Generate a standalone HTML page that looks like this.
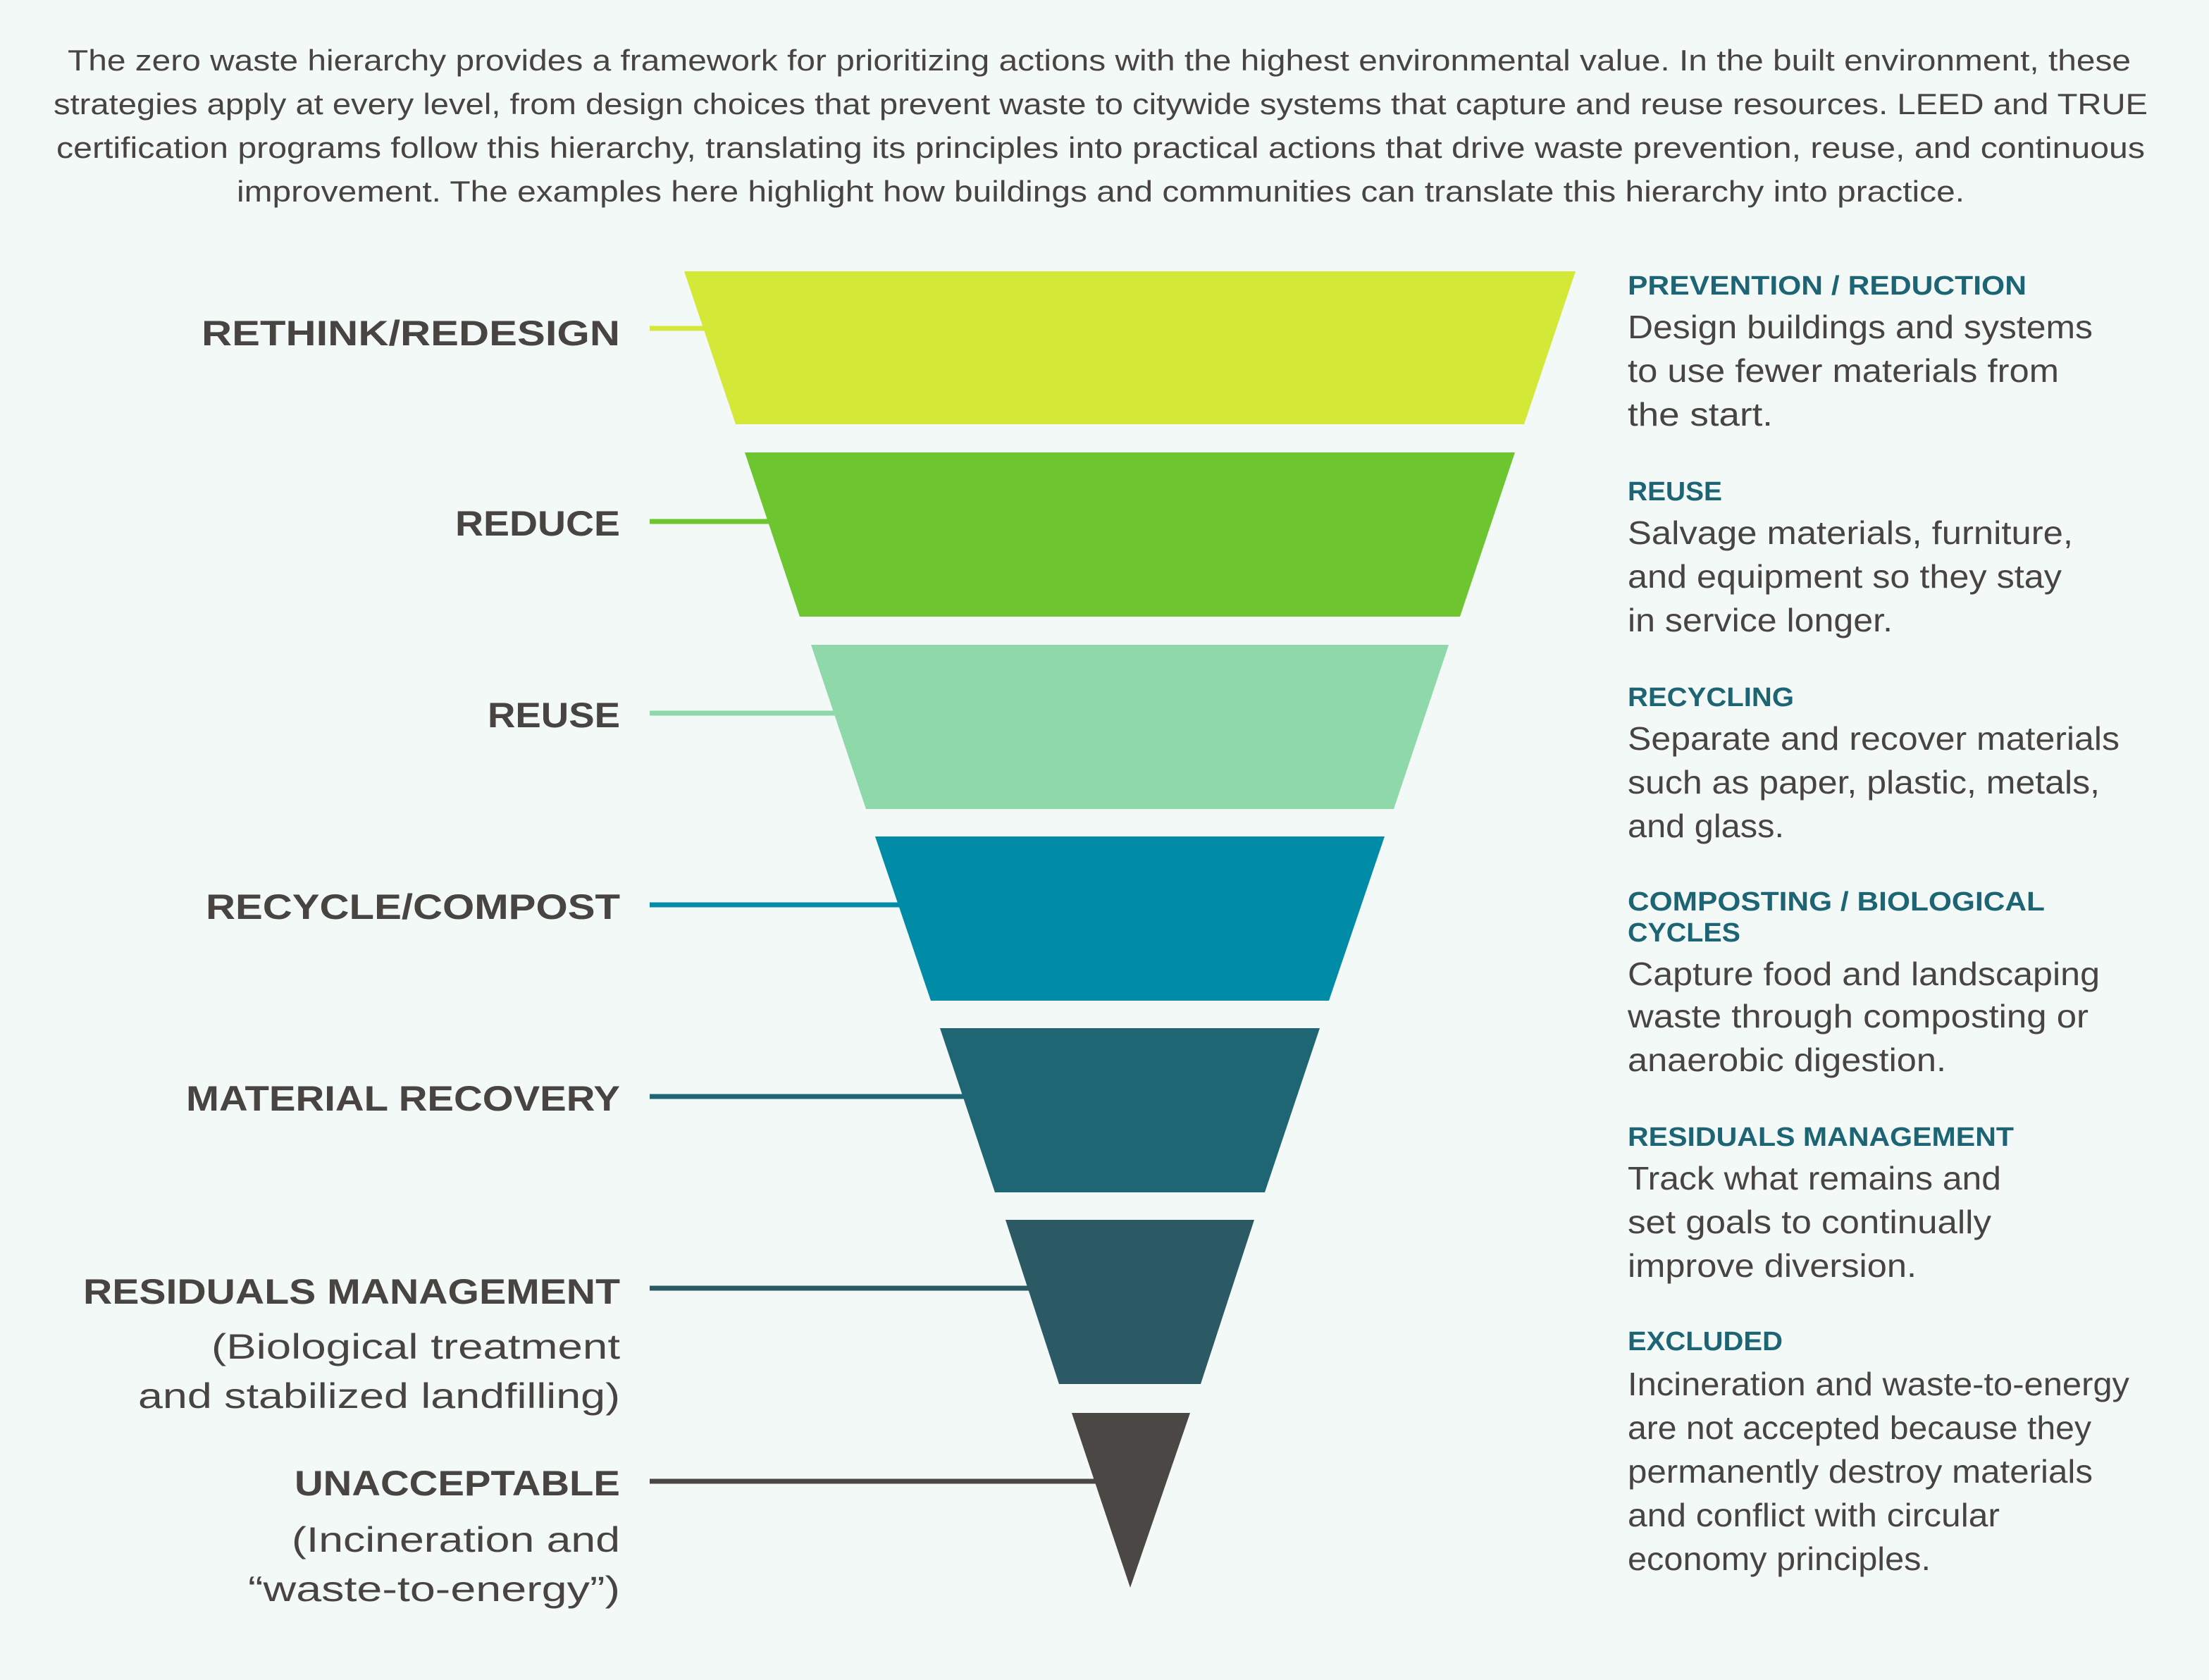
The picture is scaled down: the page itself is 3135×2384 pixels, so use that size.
<!DOCTYPE html>
<html><head><meta charset="utf-8"><style>
html,body{margin:0;padding:0;background:#f3f9f6;}
svg{display:block;}
text{font-family:"Liberation Sans",sans-serif;}
</style></head><body>
<svg width="3135" height="2384" viewBox="0 0 3135 2384" xmlns="http://www.w3.org/2000/svg">
<rect width="3135" height="2384" fill="#f3f9f6"/>
<g fill="#474442" font-size="42" lengthAdjust="spacingAndGlyphs">
<text x="96" y="100" textLength="2928" lengthAdjust="spacingAndGlyphs">The zero waste hierarchy provides a framework for prioritizing actions with the highest environmental value. In the built environment, these</text>
<text x="76" y="162" textLength="2972" lengthAdjust="spacingAndGlyphs">strategies apply at every level, from design choices that prevent waste to citywide systems that capture and reuse resources. LEED and TRUE</text>
<text x="80" y="224" textLength="2964" lengthAdjust="spacingAndGlyphs">certification programs follow this hierarchy, translating its principles into practical actions that drive waste prevention, reuse, and continuous</text>
<text x="336" y="286" textLength="2452" lengthAdjust="spacingAndGlyphs">improvement. The examples here highlight how buildings and communities can translate this hierarchy into practice.</text>
</g>
<!-- connector lines -->
<g stroke-width="7">
<line x1="922" y1="466" x2="1100" y2="466" stroke="#d4e837"/>
<line x1="922" y1="740" x2="1150" y2="740" stroke="#6dc52f"/>
<line x1="922" y1="1012" x2="1250" y2="1012" stroke="#8ed8aa"/>
<line x1="922" y1="1284" x2="1330" y2="1284" stroke="#008ca6"/>
<line x1="922" y1="1556" x2="1420" y2="1556" stroke="#1f6674"/>
<line x1="922" y1="1828" x2="1500" y2="1828" stroke="#2b5a64"/>
<line x1="922" y1="2102" x2="1570" y2="2102" stroke="#4a4745"/>
</g>
<polygon points="971,385 2236,385 2163,602 1044,602" fill="#d4e837"/>
<polygon points="1057,642 2150,642 2072,875 1135,875" fill="#6dc52f"/>
<polygon points="1151,915 2056,915 1978,1148 1229,1148" fill="#8ed8aa"/>
<polygon points="1242,1187 1965,1187 1886,1420 1321,1420" fill="#008ca6"/>
<polygon points="1334,1459 1873,1459 1795,1692 1412,1692" fill="#1f6674"/>
<polygon points="1427,1731 1780,1731 1704,1964 1503,1964" fill="#2b5a64"/>
<polygon points="1521,2005 1689,2005 1604,2253" fill="#4a4745"/>
<!-- left labels -->
<g fill="#474442" font-size="50" text-anchor="end">
<g font-weight="bold">
<text x="880" y="490" textLength="594" lengthAdjust="spacingAndGlyphs">RETHINK/REDESIGN</text>
<text x="880" y="760" textLength="234" lengthAdjust="spacingAndGlyphs">REDUCE</text>
<text x="880" y="1032" textLength="188" lengthAdjust="spacingAndGlyphs">REUSE</text>
<text x="880" y="1304" textLength="588" lengthAdjust="spacingAndGlyphs">RECYCLE/COMPOST</text>
<text x="880" y="1576" textLength="616" lengthAdjust="spacingAndGlyphs">MATERIAL RECOVERY</text>
<text x="880" y="1850" textLength="762" lengthAdjust="spacingAndGlyphs">RESIDUALS MANAGEMENT</text>
<text x="880" y="2122" textLength="462" lengthAdjust="spacingAndGlyphs">UNACCEPTABLE</text>
</g>
<text x="880" y="1928" textLength="580" lengthAdjust="spacingAndGlyphs">(Biological treatment</text>
<text x="880" y="1998" textLength="684" lengthAdjust="spacingAndGlyphs">and stabilized landfilling)</text>
<text x="880" y="2202" textLength="466" lengthAdjust="spacingAndGlyphs">(Incineration and</text>
<text x="880" y="2272" textLength="528" lengthAdjust="spacingAndGlyphs">“waste-to-energy”)</text>
</g>
<!-- right headers -->
<g fill="#1d6474" font-size="38" font-weight="bold">
<text x="2310" y="418" textLength="566" lengthAdjust="spacingAndGlyphs">PREVENTION / REDUCTION</text>
<text x="2310" y="710" textLength="134" lengthAdjust="spacingAndGlyphs">REUSE</text>
<text x="2310" y="1002" textLength="236" lengthAdjust="spacingAndGlyphs">RECYCLING</text>
<text x="2310" y="1292" textLength="592" lengthAdjust="spacingAndGlyphs">COMPOSTING / BIOLOGICAL</text>
<text x="2310" y="1336" textLength="160" lengthAdjust="spacingAndGlyphs">CYCLES</text>
<text x="2310" y="1626" textLength="548" lengthAdjust="spacingAndGlyphs">RESIDUALS MANAGEMENT</text>
<text x="2310" y="1916" textLength="220" lengthAdjust="spacingAndGlyphs">EXCLUDED</text>
</g>
<g fill="#474442" font-size="46">
<text x="2310" y="480" textLength="660" lengthAdjust="spacingAndGlyphs">Design buildings and systems</text>
<text x="2310" y="542" textLength="612" lengthAdjust="spacingAndGlyphs">to use fewer materials from</text>
<text x="2310" y="604" textLength="206" lengthAdjust="spacingAndGlyphs">the start.</text>
<text x="2310" y="772" textLength="632" lengthAdjust="spacingAndGlyphs">Salvage materials, furniture,</text>
<text x="2310" y="834" textLength="616" lengthAdjust="spacingAndGlyphs">and equipment so they stay</text>
<text x="2310" y="896" textLength="376" lengthAdjust="spacingAndGlyphs">in service longer.</text>
<text x="2310" y="1064" textLength="698" lengthAdjust="spacingAndGlyphs">Separate and recover materials</text>
<text x="2310" y="1126" textLength="670" lengthAdjust="spacingAndGlyphs">such as paper, plastic, metals,</text>
<text x="2310" y="1188" textLength="222" lengthAdjust="spacingAndGlyphs">and glass.</text>
<text x="2310" y="1398" textLength="670" lengthAdjust="spacingAndGlyphs">Capture food and landscaping</text>
<text x="2310" y="1458" textLength="654" lengthAdjust="spacingAndGlyphs">waste through composting or</text>
<text x="2310" y="1520" textLength="452" lengthAdjust="spacingAndGlyphs">anaerobic digestion.</text>
<text x="2310" y="1688" textLength="530" lengthAdjust="spacingAndGlyphs">Track what remains and</text>
<text x="2310" y="1750" textLength="516" lengthAdjust="spacingAndGlyphs">set goals to continually</text>
<text x="2310" y="1812" textLength="410" lengthAdjust="spacingAndGlyphs">improve diversion.</text>
<text x="2310" y="1980" textLength="712" lengthAdjust="spacingAndGlyphs">Incineration and waste-to-energy</text>
<text x="2310" y="2042" textLength="658" lengthAdjust="spacingAndGlyphs">are not accepted because they</text>
<text x="2310" y="2104" textLength="660" lengthAdjust="spacingAndGlyphs">permanently destroy materials</text>
<text x="2310" y="2166" textLength="528" lengthAdjust="spacingAndGlyphs">and conflict with circular</text>
<text x="2310" y="2228" textLength="430" lengthAdjust="spacingAndGlyphs">economy principles.</text>
</g>
</svg>
</body></html>
